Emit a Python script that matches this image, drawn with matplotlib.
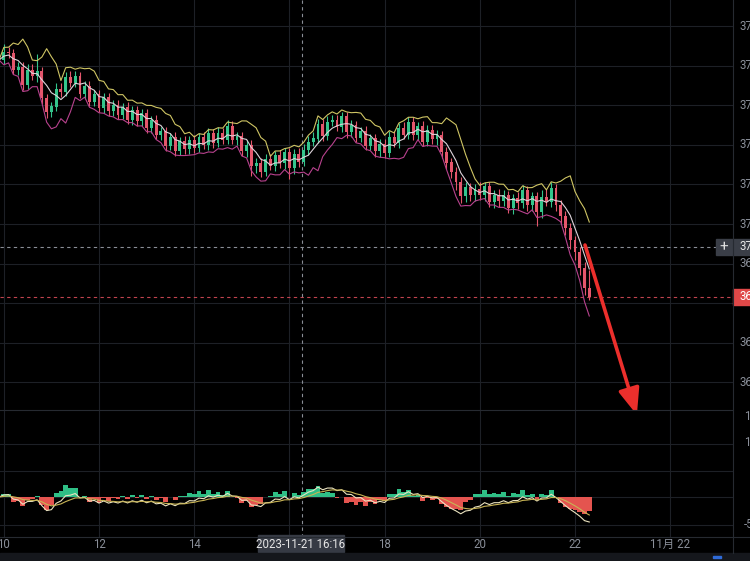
import numpy as np
import pandas as pd
import matplotlib
matplotlib.use("Agg")
import matplotlib.pyplot as plt
from matplotlib.patches import Rectangle
from matplotlib.lines import Line2D

# ---------------- data ----------------
closes = [
    37494, 37514, 37512, 37469, 37476, 37433, 37469, 37455, 37465, 37398,
    37363, 37376, 37421, 37413, 37451, 37438, 37454, 37409, 37429, 37390,
    37407, 37374, 37399, 37365, 37380, 37357, 37375, 37344, 37366, 37340,
    37359, 37323, 37343, 37305, 37314, 37279, 37300, 37266, 37288, 37269,
    37291, 37273, 37298, 37280, 37309, 37286, 37310, 37293, 37328, 37294,
    37301, 37265, 37280, 37226, 37233, 37213, 37244, 37228, 37253, 37234,
    37261, 37221, 37257, 37237, 37267, 37287, 37296, 37332, 37303, 37338,
    37341, 37326, 37351, 37312, 37329, 37299, 37315, 37278, 37296, 37264,
    37281, 37260, 37300, 37285, 37322, 37306, 37337, 37306, 37326, 37289,
    37316, 37295, 37305, 37262, 37236, 37211, 37186, 37152, 37172, 37153,
    37167, 37154, 37174, 37136, 37153, 37140, 37153, 37122, 37144, 37133,
    37165, 37129, 37149, 37110, 37148, 37137, 37171, 37128, 37100, 37070,
    37040, 37009, 36969, 36918, 36896,
]
hi_ext = [
    14, 20, 12, 11, 12, 13, 14, 16, 45, 12,
    11, 12, 14, 16, 14, 16, 12, 11, 12, 11,
    11, 12, 11, 12, 13, 12, 11, 12, 11, 12,
    11, 12, 11, 12, 11, 12, 11, 12, 11, 13,
    12, 14, 12, 14, 13, 12, 14, 13, 14, 12,
    11, 12, 11, 12, 14, 13, 12, 14, 12, 13,
    12, 11, 13, 14, 15, 14, 16, 14, 13, 14,
    15, 14, 13, 12, 13, 12, 11, 12, 11, 12,
    13, 14, 14, 15, 14, 16, 13, 12, 12, 14,
    15, 13, 12, 11, 12, 11, 12, 13, 14, 12,
    14, 18, 12, 11, 13, 16, 12, 11, 13, 16,
    14, 12, 11, 12, 18, 20, 15, 11, 12, 14,
    12, 11, 14, 16, 45,
]
lo_ext = [
    12, 11, 12, 11, 12, 14, 11, 12, 16, 14,
    15, 12, 11, 12, 11, 12, 13, 12, 14, 12,
    12, 11, 13, 12, 11, 12, 13, 12, 14, 12,
    12, 13, 12, 11, 12, 14, 12, 13, 12, 11,
    12, 13, 12, 11, 12, 13, 12, 11, 12, 13,
    14, 12, 16, 26, 16, 14, 13, 12, 14, 13,
    15, 28, 14, 12, 11, 12, 11, 12, 13, 12,
    11, 12, 13, 14, 12, 13, 12, 11, 12, 14,
    16, 13, 12, 11, 12, 11, 12, 13, 14, 12,
    13, 14, 15, 16, 18, 16, 20, 18, 16, 14,
    15, 14, 16, 13, 15, 18, 14, 15, 16, 14,
    13, 15, 16, 34, 14, 12, 13, 16, 20, 18,
    22, 20, 18, 16, 8,
]
start_hour = 9.9          # first candle time (hours)
candle_hours = 0.1        # 6-minute candles
x_ticks = [10, 12, 14, 16, 18, 20, 22, 24]
x_labels = ["10", "12", "14", "16", "18", "20", "22", "11月 22"]
price_grid = [37580, 37480, 37380, 37280, 37180, 37080, 36980, 36880, 36780, 36680]
macd_labels = ["150", "100", "-50"]
crosshair_hour = 16 + 16 / 60
crosshair_price = 37022
crosshair_text = "2023-11-21 16:16"
arrow_from = (22.21, 37027)
arrow_to = (23.30, 36598)

# ---------------- derived series ----------------
c = np.array(closes, float)
t = start_hour + candle_hours * np.arange(len(c))
o = np.concatenate([[c[0]], c[:-1]])
hi = np.maximum(o, c) + np.array(hi_ext)
lo = np.minimum(o, c) - np.array(lo_ext)
s = pd.Series(c)
win, k = 5, 2.2
mid = s.rolling(win, min_periods=1).mean()
sd = s.rolling(win, min_periods=1).std(ddof=0)
up = mid + k * sd
dn = mid - k * sd
ema_f = s.ewm(span=3, adjust=False).mean()
ema_s = s.ewm(span=8, adjust=False).mean()
dif = ema_f - ema_s
dea = dif.ewm(span=6, adjust=False).mean()
hist = 2 * (dif - dea)

# ---------------- figure ----------------
W, H = 750, 561
BG = "#000000"
GRID = "#1d2026"
fig = plt.figure(figsize=(W / 100, H / 100), dpi=100, facecolor=BG)

def fax(l, top, w, h):
    return fig.add_axes([l / W, 1 - (top + h) / H, w / W, h / H])

P0, PPX = 37645.65, 2.525
xl = (10 - 3.8 / 47.6, 10 + 729.2 / 47.6)

ax = fax(0, 0, 733, 410)
ax2 = fax(0, 410, 733, 127)
for a in (ax, ax2):
    a.set_facecolor(BG)
    a.set_xlim(*xl)
    a.set_xticks([]); a.set_yticks([])
    for sp in a.spines.values():
        sp.set_visible(False)
ax.set_ylim(P0 - 410 * PPX, P0)

for v in price_grid:
    ax.axhline(v, color=GRID, lw=0.8, zorder=0)
for xt in x_ticks:
    ax.axvline(xt, color=GRID, lw=0.8, zorder=0)
    ax2.axvline(xt, color=GRID, lw=0.8, zorder=0)

# candles
green, red = "#34c58c", "#e4566c"
cols = np.where(c >= o, green, red)
ax.vlines(t, lo, hi, colors=cols, lw=0.8, zorder=2)
ax.bar(t, np.abs(c - o) + 1.5, bottom=np.minimum(o, c) - 0.75, width=0.06,
       color=cols, lw=0, zorder=3)
ax.plot(t, up, color="#cfc564", lw=0.8, zorder=4)
ax.plot(t, mid, color="#ddd3da", lw=0.8, zorder=4)
ax.plot(t, dn, color="#b8428e", lw=0.8, zorder=4)

# last price line and crosshair
ax.axhline(c[-1], color="#c2444f", lw=0.8, dashes=(3, 3), zorder=1)
ax.axhline(crosshair_price, color="#8a8e96", lw=0.8, dashes=(3, 3), zorder=1)
ax.axvline(crosshair_hour, color="#8a8e96", lw=0.8, dashes=(3, 3), zorder=1)
ax2.axvline(crosshair_hour, color="#8a8e96", lw=0.8, dashes=(3, 3), zorder=1)

# red arrow
ax.annotate("", xy=arrow_to, xytext=arrow_from, annotation_clip=False,
            arrowprops=dict(arrowstyle="-|>,head_length=1.0,head_width=0.4",
                            color="#ec2f2c", lw=2.6, mutation_scale=16,
                            shrinkA=0, shrinkB=0), zorder=6)

# MACD panel
sc = max(abs(dif.min()), abs(dea.min())) / 25.0
ax2.set_ylim(-40 * sc, 87 * sc)
for py in (444, 471, 497, 525):
    ax2.axhline((497 - py) * sc, color=GRID, lw=0.8, zorder=0)
hcol = np.where(hist >= 0, "#2fbf86", "#e4544f")
ax2.bar(t, hist, width=candle_hours, color=hcol, lw=0, zorder=2)
ax2.plot(t, dif, color="#ece4c0", lw=0.8, zorder=3)
ax2.plot(t, dea, color="#c8b455", lw=0.8, zorder=3)

# frame lines (figure pixels)
def hline_px(y, x0=0, x1=733, color="#262a31"):
    fig.add_artist(Line2D([x0 / W, x1 / W], [1 - y / H, 1 - y / H], color=color, lw=0.8))
def vline_px(x, y0, y1, color="#262a31"):
    fig.add_artist(Line2D([x / W, x / W], [1 - y0 / H, 1 - y1 / H], color=color, lw=0.8))
hline_px(410)
hline_px(537, 0, 750)
vline_px(733, 0, 553)

# right price labels (clipped by the figure edge, as in the reference)
FONT = ["Roboto", "Noto Sans CJK SC", "DejaVu Sans"]
TC = "#8a8f99"
def rtext(y, s, color=TC, x=739):
    fig.text(x / W, 1 - y / H, s, color=color, fontsize=8.3, va="center",
             ha="left", family=FONT)
for v in price_grid:
    yp = (P0 - v) / PPX
    if abs(yp - 297) > 10:
        rtext(yp, str(v))
for yp, lab in zip((416, 443, 525), macd_labels):
    rtext(yp, lab, x=744)

# time axis labels
for xt, lab in zip(x_ticks, x_labels):
    xp = 3.8 + (xt - 10) * 47.6
    if abs(xp - 301) < 45:
        continue
    fig.text(xp / W, 1 - 544 / H, lab, color=TC, fontsize=8.3, ha="center",
             va="center", family=FONT)

# crosshair label boxes
fig.add_artist(Rectangle((716 / W, 1 - 255 / H), 34 / W, 16 / H, color="#3a3e47",
                         transform=fig.transFigure))
fig.text(724 / W, 1 - 247 / H, "+", color="#e0e0e0", fontsize=11, ha="center",
         va="center", family=FONT)
rtext(247, str(crosshair_price), color="#e8e8e8")
fig.add_artist(Rectangle((733 / W, 1 - 305 / H), 17 / W, 16 / H, color="#e04848",
                         transform=fig.transFigure))
rtext(297, f"{c[-1]:.0f}", color="#ffffff")
fig.add_artist(Rectangle((258 / W, 1 - 552 / H), 86 / W, 17 / H, color="#363a44",
                         transform=fig.transFigure))
fig.text(301 / W, 1 - 544 / H, crosshair_text, color="#e6e6e6", fontsize=8.3,
         ha="center", va="center", family=FONT)

# bottom strip
fig.add_artist(Rectangle((0, 0), 1, 8 / H, color="#15171c", transform=fig.transFigure))
fig.add_artist(Rectangle((713 / W, 3 / H), 8 / W, 2 / H, color="#2f6bd8",
                         transform=fig.transFigure))

fig.savefig("out.png", dpi=100, facecolor=BG)
